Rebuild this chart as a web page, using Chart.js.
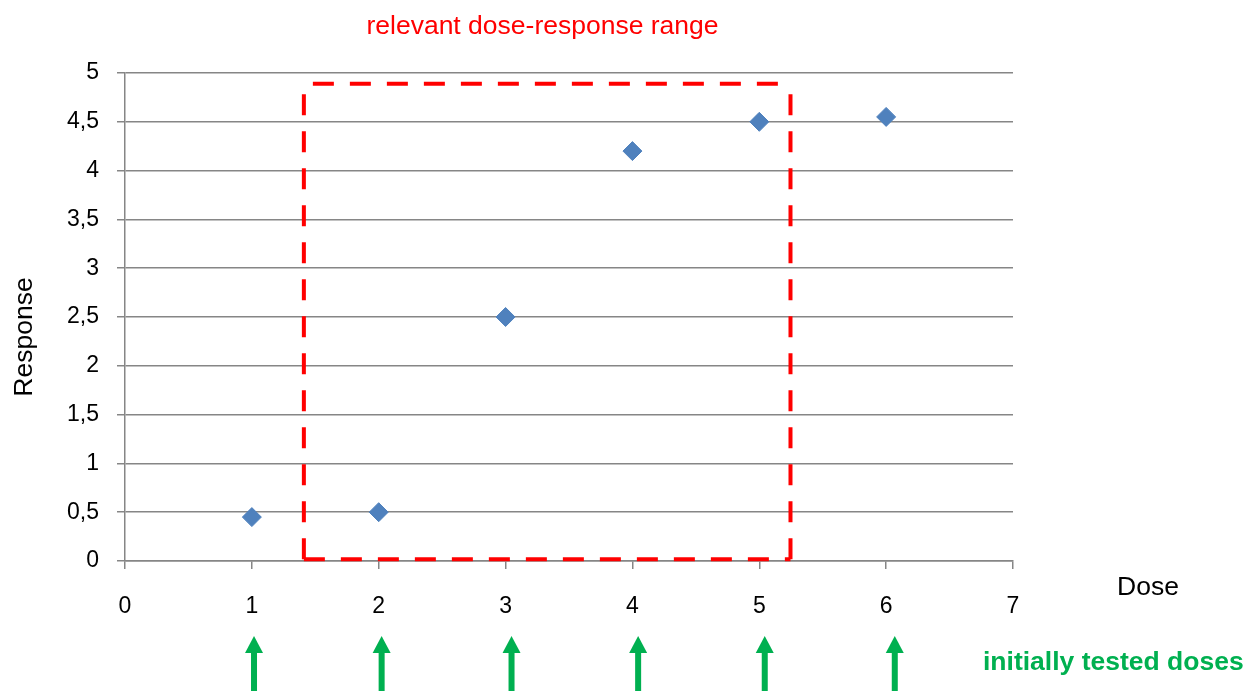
<!DOCTYPE html>
<html>
<head>
<meta charset="utf-8">
<script src="https://cdn.jsdelivr.net/npm/chart.js@4/dist/chart.umd.min.js"></script>
<style>
  body { margin: 0; background: #fff; }
</style>
</head>
<body>
<canvas id="myChart" width="1253" height="691"></canvas>
<script>
// data
const doses = [1, 2, 3, 4, 5, 6];
const responses = [0.45, 0.5, 2.5, 4.2, 4.5, 4.55];
// doses marked by the green arrows (slightly right of each tick in the original)
const testedDoses = [1.017, 2.023, 3.047, 4.045, 5.043, 6.068];
// the red "relevant range" box, in data units
const rangeX = [1.41, 5.246];
const rangeY = [0.017, 4.89];

const gridGray = '#868686';
const font = 'Liberation Sans, Arial, sans-serif';

let data = [];
for (let i = 0; i < doses.length; i++) {
  data.push({x: doses[i], y: responses[i]});
}

// Plugin for the box, arrows and free texts
const annotations = {
  id: 'annotations',
  afterDraw(chart) {
    const { ctx } = chart;
    const xs = chart.scales.x;
    const ys = chart.scales.y;
    ctx.save();

    // dashed red box
    const l = xs.getPixelForValue(rangeX[0]);
    const r = xs.getPixelForValue(rangeX[1]);
    const t = ys.getPixelForValue(rangeY[1]);
    const b = ys.getPixelForValue(rangeY[0]);
    ctx.strokeStyle = '#FF0000';
    ctx.lineWidth = 4;
    ctx.setLineDash([21, 16]);
    ctx.beginPath();
    ctx.moveTo(l, b); ctx.lineTo(l, t);
    ctx.moveTo(l, b); ctx.lineTo(r, b);
    ctx.moveTo(l + 9, t); ctx.lineTo(r, t);
    ctx.moveTo(r, b); ctx.lineTo(r, t + 10);
    ctx.stroke();
    ctx.setLineDash([]);

    // green arrows
    ctx.fillStyle = '#00B050';
    for (let i = 0; i < testedDoses.length; i++) {
      const px = xs.getPixelForValue(testedDoses[i]);
      ctx.fillRect(px - 3, 652, 6, 40);
      ctx.beginPath();
      ctx.moveTo(px, 636);
      ctx.lineTo(px + 9, 653);
      ctx.lineTo(px - 9, 653);
      ctx.closePath();
      ctx.fill();
    }

    // texts
    ctx.textBaseline = 'alphabetic';
    ctx.font = '26.5px ' + font;
    ctx.fillStyle = '#FF0000';
    ctx.textAlign = 'center';
    ctx.fillText('relevant dose-response range', 542.5, 34);

    ctx.fillStyle = '#000';
    ctx.textAlign = 'left';
    ctx.fillText('Dose', 1117, 595);

    ctx.font = 'bold 26.5px ' + font;
    ctx.fillStyle = '#00B050';
    ctx.fillText('initially tested doses', 983, 670);

    ctx.font = '26.5px ' + font;
    ctx.fillStyle = '#000';
    ctx.translate(31.5, 337);
    ctx.rotate(-Math.PI / 2);
    ctx.textAlign = 'center';
    ctx.fillText('Response', 0, 0);

    ctx.restore();
  }
};

const config = {
  type: 'scatter',
  data: {
    datasets: [{
      label: 'Response',
      data: data,
      backgroundColor: '#4F81BD',
      borderColor: '#4F81BD',
      borderWidth: 1,
      pointStyle: 'rectRot',
      radius: 9.5,
      hoverRadius: 9.5
    }]
  },
  options: {
    responsive: false,
    animation: false,
    layout: { padding: { top: 73, right: 240, left: 0, bottom: 0 } },
    plugins: {
      legend: { display: false },
      tooltip: { enabled: false }
    },
    scales: {
      x: {
        type: 'linear',
        min: 0,
        max: 7,
        afterFit(scale) { scale.height = 130; },
        grid: { drawOnChartArea: false, color: gridGray, lineWidth: 1.5, tickLength: 8 },
        border: { color: gridGray, width: 1.5 },
        ticks: {
          stepSize: 1,
          padding: 24,
          color: '#000',
          font: { family: font, size: 23 }
        }
      },
      y: {
        min: 0,
        max: 5,
        afterFit(scale) { scale.width = 125; },
        grid: { color: gridGray, lineWidth: 1.5, tickLength: 8 },
        border: { color: gridGray, width: 1.5 },
        ticks: {
          stepSize: 0.5,
          padding: 18,
          color: '#000',
          font: { family: font, size: 23 },
          callback: (v) => String(v).replace('.', ',')
        }
      }
    }
  },
  plugins: [annotations]
};

const myChart = new Chart(document.getElementById('myChart'), config);
</script>
</body>
</html>
